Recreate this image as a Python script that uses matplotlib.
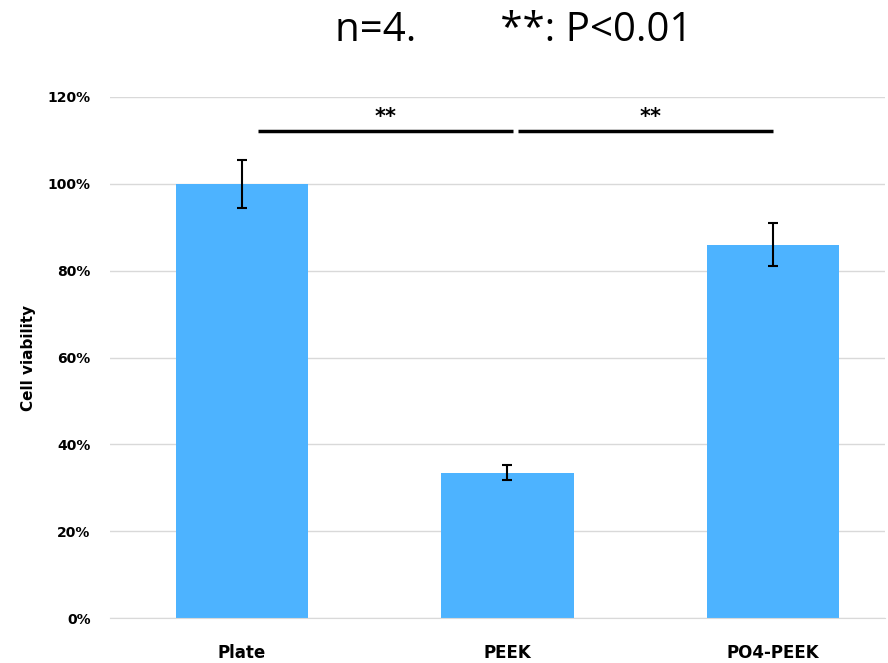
import numpy as np
import matplotlib
matplotlib.use('Agg')
import matplotlib.pyplot as plt
from matplotlib.ticker import PercentFormatter

# data
groups = ['Plate', 'PEEK', 'PO4-PEEK']
viability = [1.00, 0.335, 0.86]
errors = [0.055, 0.017, 0.05]
sig_pairs = [(0, 1), (1, 2)]
sig_labels = ['**', '**']

fig = plt.figure(figsize=(8.88, 6.63), dpi=100)
ax = fig.add_axes([110/888, 45/663, 775/888, 521/663])

x = np.arange(len(groups))
ax.bar(x, viability, width=0.5, color='#4DB3FF', zorder=2)
ax.errorbar(x, viability, yerr=errors, fmt='none', ecolor='black',
            elinewidth=1.5, capsize=3.5, capthick=1.5, zorder=3)

# significance bars
for (a, b), lab in zip(sig_pairs, sig_labels):
    x0 = a + 0.06 if a == 0 else a + 0.04
    x1 = b + 0.02 if b == 1 else b
    ax.plot([x0, x1], [1.122, 1.122], color='black', lw=2.5, solid_capstyle='butt', zorder=3)
    ax.text((a + b) / 2 + 0.04, 1.13, lab, ha='center', va='bottom',
            fontsize=15, fontweight='bold')

ax.set_xlim(-0.497, 2.422)
ax.set_ylim(0, 1.2)
ax.set_yticks(np.arange(0, 1.21, 0.2))
ax.yaxis.set_major_formatter(PercentFormatter(1.0, decimals=0))
ax.grid(axis='y', color='#D9D9D9', lw=1, zorder=0)
ax.set_xticks(x)
ax.set_xticklabels(groups, fontsize=12, fontweight='bold')
for s in ['top', 'right', 'left']:
    ax.spines[s].set_visible(False)
ax.spines['bottom'].set_color('#D9D9D9')
ax.tick_params(axis='both', length=0)
ax.tick_params(axis='y', labelsize=10, pad=14)
ax.tick_params(axis='x', pad=19)
for t in ax.get_yticklabels():
    t.set_fontweight('bold')
ax.set_ylabel('Cell viability', fontsize=11, fontweight='bold', labelpad=8)

fig.text(0.578, 0.954, 'n=4.        **: P<0.01', ha='center', va='center',
         fontsize=29, family='Open Sans')

fig.savefig('out.png', dpi=100)
